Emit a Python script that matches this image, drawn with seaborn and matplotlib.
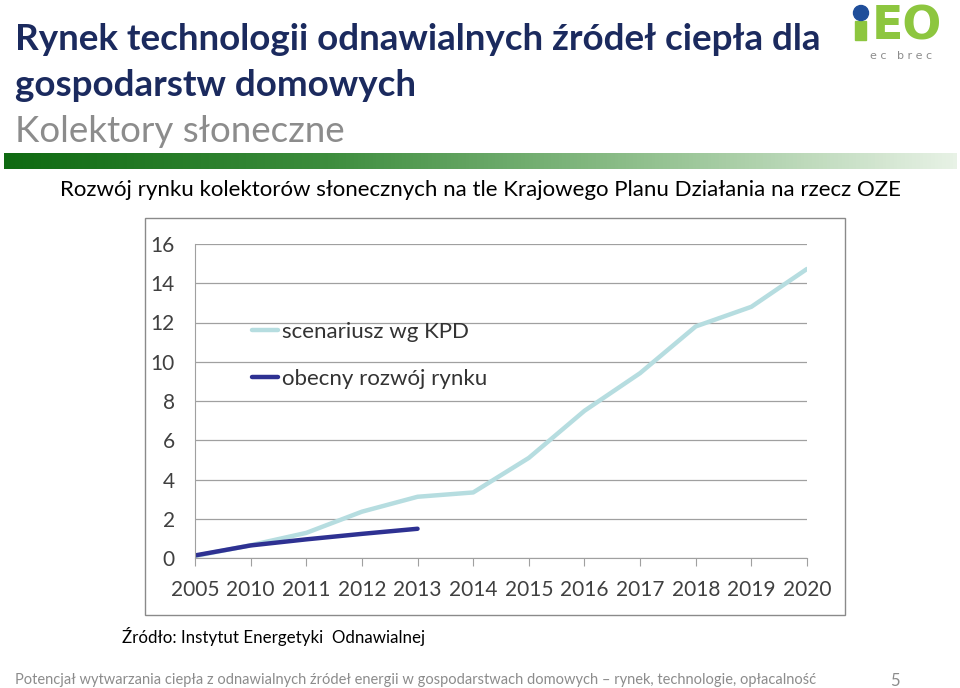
import numpy as np
import pandas as pd
import matplotlib
matplotlib.use("Agg")
import matplotlib.pyplot as plt
import matplotlib.patches as mpatches
import seaborn as sns

# data
years = ['2005', '2010', '2011', '2012', '2013', '2014', '2015', '2016', '2017', '2018', '2019', '2020']
kpd_values = [0.1, 0.65, 1.28, 2.36, 3.12, 3.34, 5.1, 7.5, 9.42, 11.8, 12.8, 14.73]
market_years = ['2005', '2010', '2011', '2012', '2013']
market_values = [0.13, 0.64, 0.95, 1.23, 1.49]
series_names = ['scenariusz wg KPD', 'obecny rozwój rynku']
y_ticks = [0, 2, 4, 6, 8, 10, 12, 14, 16]

df = pd.concat([
    pd.DataFrame({'rok': years, 'wartosc': kpd_values, 'seria': series_names[0]}),
    pd.DataFrame({'rok': market_years, 'wartosc': market_values, 'seria': series_names[1]}),
])

sns.set_style("white")
plt.rcParams['font.family'] = ['Lato', 'DejaVu Sans']
chart_font = ['Lato', 'DejaVu Sans']

fig = plt.figure(figsize=(9.6, 6.88), dpi=100)

# title block
fig.text(15/960, 1 - 39/688, 'Rynek technologii odnawialnych źródeł ciepła dla',
         fontsize=26.5, fontweight='bold', color='#1b2a5e', va='center')
fig.text(15/960, 1 - 85/688, 'gospodarstw domowych',
         fontsize=26.5, fontweight='bold', color='#1b2a5e', va='center')
fig.text(15/960, 1 - 131/688, 'Kolektory słoneczne',
         fontsize=26.5, color='#8c8c8c', va='center')

# green gradient bar
bar_ax = fig.add_axes([4/960, 1 - 169/688, 953/960, 16/688])
grad = np.linspace(0, 1, 256).reshape(1, -1)
green_cmap = matplotlib.colors.LinearSegmentedColormap.from_list(
    'g', ['#0f6a12', '#3c8c3c', '#8fbf8c', '#e8f2e6'])
bar_ax.imshow(grad, aspect='auto', cmap=green_cmap)
bar_ax.axis('off')

# logo
fig.patches.append(mpatches.Rectangle((855/960, 1 - 40/688), 11/960, 19/688,
                                      transform=fig.transFigure, color='#8dc63f'))
fig.patches.append(mpatches.Ellipse((861/960, 1 - 13/688), 15/960, 15/688,
                                    transform=fig.transFigure, color='#1f4e9a'))
fig.text(907/960, 1 - 40/688, 'EO', fontsize=33, fontweight='heavy', color='#8dc63f',
         ha='center', va='baseline', family=['DejaVu Sans'])
fig.text(901/960, 1 - 56/688, 'e c   b r e c', fontsize=8, color='#8c8c8c',
         ha='center', va='center', family=['DejaVu Sans'])

# chart heading
fig.text(480/960, 1 - 190/688,
         'Rozwój rynku kolektorów słonecznych na tle Krajowego Planu Działania na rzecz OZE',
         fontsize=16, color='black', ha='center', va='center')

# chart frame
fig.patches.append(mpatches.Rectangle((145/960, 1 - 615/688), 700/960, 397/688,
                                      transform=fig.transFigure, fill=False,
                                      edgecolor='#8a8a8a', linewidth=1))

ax = fig.add_axes([195/960, 1 - 558/688, 612/960, 314/688])
sns.lineplot(data=df, x='rok', y='wartosc', hue='seria', sort=False,
             palette=['#b6dde0', '#2e3192'], linewidth=3.2, ax=ax)

ax.set_xlim(0, len(years) - 1)
ax.set_ylim(0, 16)
ax.set_yticks(y_ticks)
ax.set_yticklabels([str(t) for t in y_ticks], family=chart_font, fontsize=15, color='#404040')
ax.set_xticks(range(len(years)))
ax.set_xticklabels(years, family=chart_font, fontsize=15, color='#404040')
ax.set_xlabel('')
ax.set_ylabel('')
ax.yaxis.grid(True, color='#a0a0a0', linewidth=0.9)
for s in ['top', 'right']:
    ax.spines[s].set_visible(False)
ax.spines['left'].set_color('#a0a0a0')
ax.spines['bottom'].set_color('#a0a0a0')
ax.tick_params(axis='x', bottom=True, length=6, color='#a0a0a0', pad=10)
ax.tick_params(axis='y', left=False, pad=11)

leg = ax.legend(loc='upper left', bbox_to_anchor=(0.06, 0.815), frameon=False,
                handlelength=1.2, handletextpad=0.15, labelspacing=1.2,
                prop={'family': chart_font, 'size': 16})
for t in leg.get_texts():
    t.set_color('#333333')

# footer texts
fig.text(122/960, 1 - 636/688, 'Źródło: Instytut Energetyki  Odnawialnej',
         fontsize=12.2, color='black', va='center')
fig.text(15/960, 1 - 680/688,
         'Potencjał wytwarzania ciepła z odnawialnych źródeł energii w gospodarstwach domowych – rynek, technologie, opłacalność',
         fontsize=10.5, color='#8c8c8c', va='center')
fig.text(895/960, 1 - 681/688, '5', fontsize=12, color='#8c8c8c', ha='center', va='center')

fig.savefig('out.png', dpi=100)
